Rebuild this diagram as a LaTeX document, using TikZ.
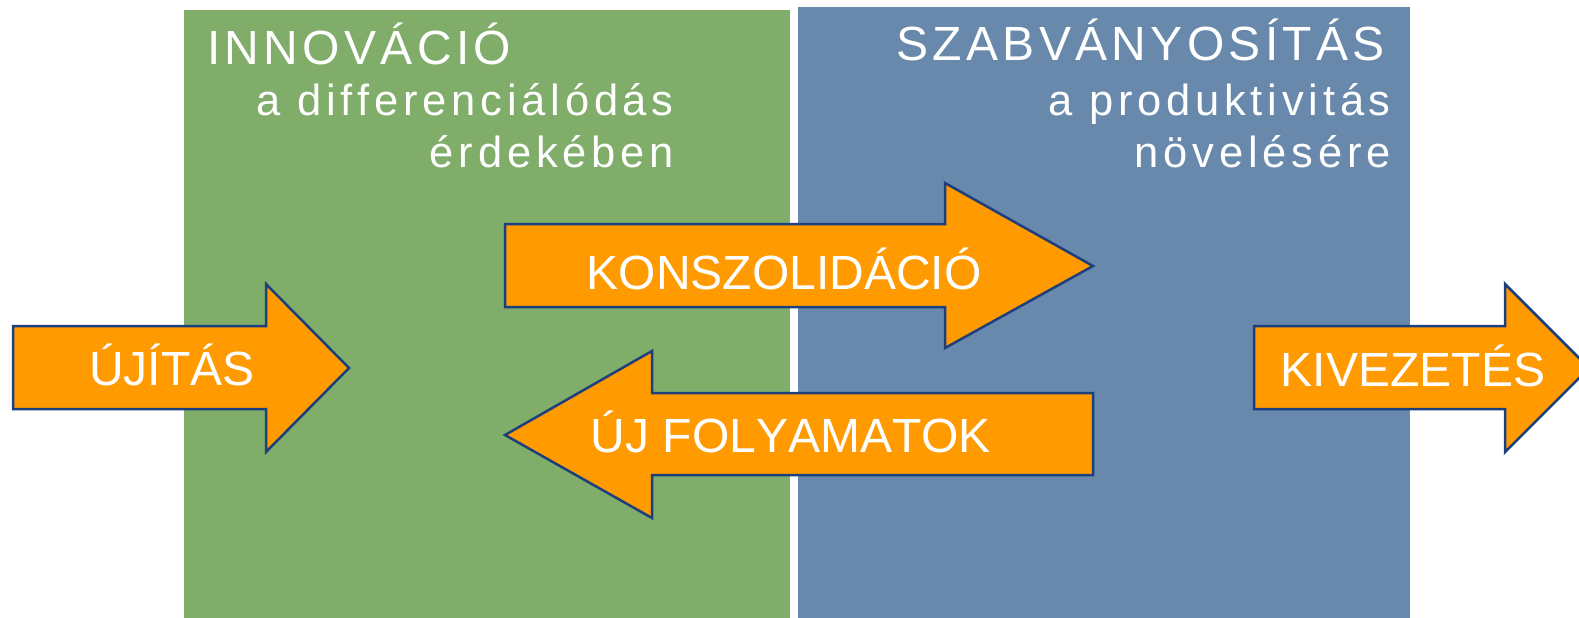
\documentclass[tikz,border=0pt]{standalone}
\usepackage{fontspec}
\setmainfont[Kerning=Off]{Liberation Sans}
\newfontfamily\titlefont[LetterSpace=9,Kerning=Off]{Liberation Sans}
\newfontfamily\subfont[LetterSpace=11,Kerning=Off,Ligatures=NoCommon]{Liberation Sans}
\definecolor{innogreen}{HTML}{80AD69}
\definecolor{szabblue}{HTML}{6889AB}
\definecolor{arroworange}{HTML}{FF9A00}
\definecolor{arrowline}{HTML}{1C3F7E}
\tikzset{
  arrowshape/.style={fill=arroworange, draw=arrowline, line width=2.5pt, line join=miter},
  arrowtext/.style={text=white, font=\fontsize{48}{50}\selectfont, anchor=base, inner sep=0pt},
  headtext/.style={text=white, font=\titlefont\fontsize{48}{50}\selectfont, inner sep=0pt},
  subtext/.style={text=white, font=\subfont\fontsize{43.5}{46}\selectfont, inner sep=0pt, anchor=base east},
}
\begin{document}
\begin{tikzpicture}[x=1pt,y=-1pt]
  \useasboundingbox (0,0) rectangle (1579,618);
  \clip (0,0) rectangle (1579,618);
  % the two panels
  \fill[innogreen] (184,10) rectangle (790,618);
  \fill[szabblue] (798,7) rectangle (1410,618);
  % headings
  \node[headtext, anchor=base west] (inno)  at (207,64) {INNOVÁCIÓ};
  \node[subtext] (innoa) at (674,115) {a differenciálódás};
  \node[subtext] (innob) at (674,167) {érdekében};
  \node[headtext, anchor=base east] (szab)  at (1385,60) {SZABVÁNYOSÍTÁS};
  \node[subtext] (szaba) at (1391,115) {a produktivitás};
  \node[subtext] (szabb) at (1391,167) {növelésére};
  % arrows
  \filldraw[arrowshape] (13,326) -- (266,326) -- (266,284) -- (349,368)
    -- (266,452) -- (266,409) -- (13,409) -- cycle;
  \node[arrowtext] (ujitas) at (172,385) {ÚJÍTÁS};
  \filldraw[arrowshape] (505,224) -- (945,224) -- (945,183) -- (1093,266)
    -- (945,348) -- (945,307) -- (505,307) -- cycle;
  \node[arrowtext] (konsz) at (784,289) {KONSZOLIDÁCIÓ};
  \filldraw[arrowshape] (1093,393) -- (652,393) -- (652,351) -- (505,435)
    -- (652,518) -- (652,475) -- (1093,475) -- cycle;
  \node[arrowtext] (ujfoly) at (791,452) {ÚJ FOLYAMATOK};
  \filldraw[arrowshape] (1254,326) -- (1505,326) -- (1505,284) -- (1589,368)
    -- (1505,452) -- (1505,409) -- (1254,409) -- cycle;
  \node[arrowtext] (kivez) at (1413,386) {KIVEZETÉS};
\end{tikzpicture}
\end{document}
